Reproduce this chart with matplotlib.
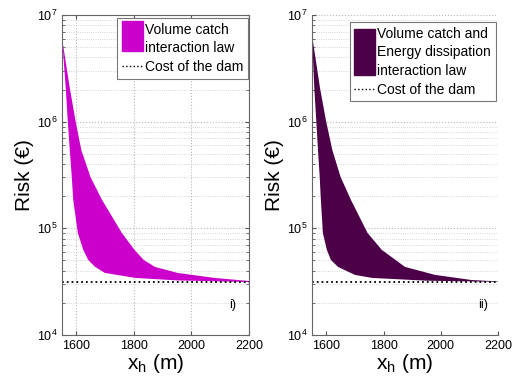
import numpy as np
import matplotlib.pyplot as plt
from matplotlib.patches import Rectangle, Patch
from matplotlib.legend_handler import HandlerPatch
from matplotlib.lines import Line2D
from matplotlib.ticker import FixedLocator, LogLocator, FuncFormatter, NullFormatter

plt.rcParams['font.family'] = ['Liberation Sans', 'DejaVu Sans']
plt.rcParams['mathtext.default'] = 'regular'

# panel i) : volume catch interaction law (upper / lower edge of the band)
x_up_i = [1550, 1577, 1597, 1617, 1649, 1689, 1758, 1802, 1834, 1873, 1952, 2080, 2200]
risk_up_i = [6.1e6, 2.07e6, 1.02e6, 5.43e5, 3.03e5, 1.85e5, 9.06e4, 6.28e4, 5.06e4,
             4.35e4, 3.82e4, 3.43e4, 3.21e4]
x_lo_i = [1550, 1563, 1570, 1577, 1584, 1589, 1605, 1624, 1641, 1665, 1699, 1804, 1950, 2200]
risk_lo_i = [6.1e6, 2.07e6, 1.02e6, 5.43e5, 3.03e5, 1.85e5, 9.06e4, 6.28e4, 5.06e4,
             4.35e4, 3.82e4, 3.43e4, 3.25e4, 3.14e4]

# panel ii) : volume catch + energy dissipation
x_up_ii = [1550, 1578, 1599, 1621, 1650, 1686, 1744, 1794, 1875, 1980, 2107, 2200]
risk_up_ii = [6.5e6, 2.07e6, 1.02e6, 5.43e5, 3.03e5, 1.85e5, 9.06e4, 6.28e4, 4.35e4,
              3.66e4, 3.28e4, 3.18e4]
x_lo_ii = [1550, 1558, 1565, 1571, 1577, 1581, 1588, 1602, 1616, 1641, 1700, 1760, 1950, 2200]
risk_lo_ii = [6.5e6, 2.07e6, 1.02e6, 5.43e5, 3.03e5, 1.85e5, 9.06e4, 6.28e4, 5.06e4,
              4.35e4, 3.66e4, 3.43e4, 3.23e4, 3.15e4]

cost_dam = 3.13e4
x_range = [1550, 2200]
x_ticks = [1600, 1800, 2000, 2200]
y_ticks = [1e4, 1e5, 1e6, 1e7]

label_i = "Volume catch\ninteraction law"
label_ii = "Volume catch and\nEnergy dissipation\ninteraction law"
label_cost = "Cost of the dam"


def tall_patch(y0, h):
    # colour swatch that covers every line of a multi-line label
    def make(legend, orig_handle, xdescent, ydescent, width, height, fontsize):
        return Rectangle((-xdescent, -ydescent + y0 * fontsize), width, h * fontsize)
    return make


def setup(ax, box):
    ax.set_yscale('log')
    ax.set_xlim(x_range)
    ax.set_ylim(1e4, 1e7)
    ax.xaxis.set_major_locator(FixedLocator(x_ticks))
    ax.yaxis.set_major_locator(FixedLocator(y_ticks))
    ax.yaxis.set_minor_locator(LogLocator(base=10, subs=np.arange(2, 10)))
    ax.yaxis.set_major_formatter(FuncFormatter(lambda v, p: r'$10^{%d}$' % round(np.log10(v))))
    ax.yaxis.set_minor_formatter(NullFormatter())
    ax.tick_params(which='both', direction='in', labelsize=9, color='#555555',
                   top=box, right=box)
    ax.tick_params(which='major', length=3)
    ax.tick_params(which='minor', length=2)
    for s in ax.spines.values():
        s.set_color('#666666')
        s.set_linewidth(0.8)
    if not box:
        ax.spines['top'].set_visible(False)
        ax.spines['right'].set_visible(False)
    ax.set_axisbelow(True)
    ax.set_xlabel(r'$x_h$ (m)', fontsize=15, labelpad=0)
    ax.set_ylabel('Risk (€)', fontsize=15, labelpad=2)


def legend(ax, color, label, swatch, **kw):
    handles = [Patch(color=color), Line2D([], [], ls=':', color='black', lw=1)]
    leg = ax.legend(handles, [label, label_cost], fontsize=10, loc='upper right',
                    fancybox=False, framealpha=1, edgecolor='#777777',
                    handlelength=1.5, handletextpad=0.15, borderaxespad=0,
                    labelspacing=0.35, borderpad=0.35,
                    handler_map={Patch: HandlerPatch(patch_func=tall_patch(*swatch))}, **kw)
    leg.get_frame().set_linewidth(0.8)
    for t in leg.get_texts():
        t.set_linespacing(1.4)
    return leg


fig = plt.figure(figsize=(5.15, 3.83), dpi=100)
ax1 = fig.add_axes([0.1204, 0.1253, 0.3631, 0.8355])
ax2 = fig.add_axes([0.6058, 0.1253, 0.3612, 0.8355])

# left panel
setup(ax1, True)
ax1.grid(True, which='major', ls=':', color='#b8b8b8', lw=0.8)
ax1.grid(True, which='minor', axis='y', ls=':', color='#c8c8c8', lw=0.6)
ax1.fill(x_up_i + x_lo_i[::-1], risk_up_i + risk_lo_i[::-1], color='#cc00cc', lw=0)
ax1.plot(x_range, [cost_dam, cost_dam], ls=':', color='black', lw=1.3)
ax1.text(2130, 1.9e4, 'i)', fontsize=9, ha='left', va='center')
legend(ax1, '#cc00cc', label_i, (-0.45, 2.16), bbox_to_anchor=(0.997, 0.99))

# right panel
setup(ax2, False)
ax2.grid(True, which='major', axis='y', ls=':', color='#b8b8b8', lw=0.8)
ax2.grid(True, which='minor', axis='y', ls=':', color='#c8c8c8', lw=0.6)
ax2.fill(x_up_ii + x_lo_ii[::-1], risk_up_ii + risk_lo_ii[::-1], color='#4b0047', lw=0)
ax2.plot(x_range, [cost_dam, cost_dam], ls=':', color='black', lw=1.3)
ax2.text(2130, 1.9e4, 'ii)', fontsize=9, ha='left', va='center')
legend(ax2, '#4b0047', label_ii, (-1.27, 3.38), bbox_to_anchor=(0.989, 0.978))

fig.savefig('out.png', dpi=100)
